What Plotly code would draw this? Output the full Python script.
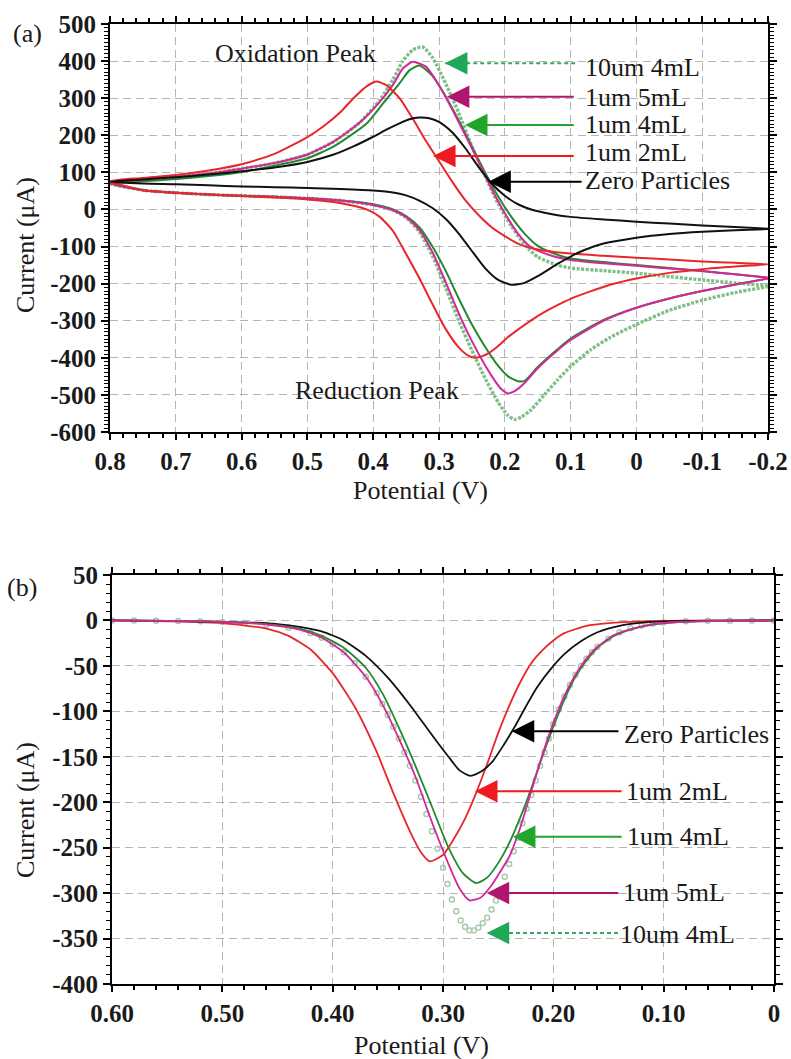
import plotly.graph_objects as go

# ---------------- (a) cyclic voltammograms: potential (V) / current (uA) ----------------
# each loop: anodic sweep -0.2 -> 0.8 V, then cathodic sweep 0.8 -> -0.2 V
ZERO_E = [-0.2, -0.15, -0.1, -0.05, 0.0, 0.05, 0.1, 0.13, 0.16, 0.18, 0.2, 0.22, 0.24, 0.26, 0.28, 0.3,
          0.315, 0.33, 0.345, 0.36, 0.38, 0.4, 0.43, 0.46, 0.5, 0.55, 0.6, 0.65, 0.7, 0.75, 0.8,
          0.75, 0.7, 0.65, 0.6, 0.55, 0.5, 0.45, 0.4, 0.37, 0.35, 0.33, 0.31, 0.29, 0.27, 0.25, 0.23,
          0.21, 0.19, 0.17, 0.15, 0.12, 0.1, 0.08, 0.05, 0.0, -0.05, -0.1, -0.15, -0.2]
ZERO_I = [-52, -47, -43, -38, -33, -27, -20, -12, 0, 14, 37, 70, 115, 165, 208, 236,
          246, 248, 243, 232, 215, 196, 170, 148, 128, 113, 103, 94, 87, 81, 75,
          70, 68, 65, 62, 60, 58, 55, 51, 46, 38, 24, 4, -25, -65, -112, -158,
          -190, -203, -198, -180, -147, -127, -110, -92, -76, -66, -60, -56, -53]

R2_E = [-0.2, -0.15, -0.1, -0.05, 0.0, 0.05, 0.1, 0.15, 0.18, 0.2, 0.22, 0.24, 0.26, 0.28, 0.3, 0.32,
        0.34, 0.36, 0.38, 0.395, 0.41, 0.43, 0.45, 0.475, 0.5, 0.55, 0.6, 0.65, 0.7, 0.75, 0.8,
        0.75, 0.7, 0.65, 0.6, 0.55, 0.5, 0.46, 0.43, 0.41, 0.39, 0.37, 0.35, 0.33, 0.31, 0.29,
        0.27, 0.255, 0.245, 0.235, 0.225, 0.21, 0.195, 0.18, 0.16, 0.14, 0.12, 0.1, 0.07, 0.04, 0.0,
        -0.05, -0.1, -0.15, -0.2]
R2_I = [-148, -144, -140, -135, -130, -125, -119, -108, -92, -72, -48, -15, 25, 75, 130, 185,
        245, 300, 335, 345, 332, 300, 262, 225, 195, 150, 122, 105, 93, 85, 76,
        52, 45, 40, 36, 32, 27, 20, 10, 0, -20, -58, -120, -185, -255, -322,
        -372, -395, -400, -396, -388, -368, -344, -324, -299, -277, -258, -241, -221, -203, -186,
        -171, -161, -154, -148]

G4_E = [-0.2, -0.15, -0.1, -0.05, 0.0, 0.05, 0.1, 0.12, 0.15, 0.17, 0.19, 0.21, 0.23, 0.25, 0.27, 0.29,
        0.31, 0.33, 0.345, 0.36, 0.385, 0.41, 0.46, 0.5, 0.55, 0.6, 0.65, 0.7, 0.75, 0.8,
        0.75, 0.7, 0.65, 0.6, 0.55, 0.5, 0.45, 0.4, 0.37, 0.35, 0.33, 0.31, 0.29, 0.27, 0.25,
        0.23, 0.21, 0.195, 0.18, 0.17, 0.15, 0.12, 0.1, 0.05, 0.0, -0.05, -0.1, -0.15, -0.2]
G4_I = [-184, -175, -166, -158, -150, -142, -132, -122, -98, -65, -20, 35, 100, 170, 240, 305,
        360, 388, 375, 340, 286, 232, 170, 138, 118, 101, 90, 82, 76, 70,
        52, 45, 40, 37, 34, 30, 24, 14, 0, -18, -48, -100, -165, -240, -310,
        -370, -422, -450, -463, -462, -425, -377, -348, -298, -265, -240, -220, -202, -186]

M5_E = [-0.2, -0.15, -0.1, -0.05, 0.0, 0.05, 0.1, 0.13, 0.16, 0.18, 0.2, 0.22, 0.24, 0.26, 0.28, 0.3,
        0.32, 0.34, 0.355, 0.37, 0.39, 0.42, 0.46, 0.5, 0.55, 0.6, 0.65, 0.7, 0.75, 0.8,
        0.75, 0.7, 0.65, 0.6, 0.55, 0.5, 0.45, 0.4, 0.37, 0.35, 0.33, 0.31, 0.29, 0.27, 0.25,
        0.23, 0.215, 0.205, 0.195, 0.185, 0.17, 0.15, 0.12, 0.1, 0.05, 0.0, -0.05, -0.1, -0.15, -0.2]
M5_I = [-184, -175, -166, -159, -152, -145, -136, -124, -102, -65, -10, 55, 130, 200, 270, 335,
        385, 398, 380, 336, 290, 235, 183, 148, 125, 110, 97, 88, 80, 72,
        52, 45, 40, 37, 34, 30, 24, 12, -2, -20, -55, -115, -195, -280, -355,
        -420, -462, -485, -496, -490, -468, -428, -380, -352, -300, -265, -240, -220, -203, -186]

T4_E = [-0.2, -0.15, -0.1, -0.05, 0.0, 0.05, 0.1, 0.12, 0.15, 0.17, 0.19, 0.21, 0.23, 0.25, 0.27, 0.29,
        0.31, 0.325, 0.34, 0.355, 0.37, 0.39, 0.42, 0.46, 0.5, 0.55, 0.6, 0.65, 0.7, 0.75, 0.8,
        0.75, 0.7, 0.65, 0.6, 0.55, 0.5, 0.45, 0.4, 0.37, 0.35, 0.33, 0.31, 0.29, 0.27, 0.25,
        0.23, 0.21, 0.195, 0.185, 0.175, 0.16, 0.14, 0.12, 0.1, 0.07, 0.04, 0.0, -0.05, -0.1, -0.15, -0.2]
T4_I = [-206, -198, -190, -181, -172, -165, -158, -150, -128, -95, -45, 15, 90, 170, 260, 340,
        410, 438, 430, 400, 350, 295, 235, 183, 148, 125, 110, 97, 88, 80, 70,
        52, 45, 40, 37, 34, 30, 24, 12, -2, -22, -60, -125, -210, -300, -380,
        -455, -520, -556, -566, -560, -540, -500, -460, -423, -379, -345, -310, -272, -245, -224, -208]

# ---------------- (b) reduction sweeps, 0.6 -> 0 V ----------------
B_ZERO_E = [0.6, 0.55, 0.5, 0.47, 0.45, 0.43, 0.41, 0.39, 0.37, 0.35, 0.33, 0.31, 0.295, 0.285, 0.275,
            0.265, 0.255, 0.245, 0.235, 0.225, 0.215, 0.2, 0.19, 0.175, 0.16, 0.14, 0.12, 0.1, 0.05, 0.0]
B_ZERO_I = [0, -0.5, -1.5, -2.5, -4, -7, -12, -22, -39, -63, -93, -126, -150, -165, -171,
            -166, -155, -137, -117, -95, -74, -50, -37, -23, -13, -6, -2.5, -1, -0.3, 0]

B_R2_E = [0.6, 0.55, 0.5, 0.46, 0.44, 0.42, 0.4, 0.38, 0.36, 0.345, 0.33, 0.32, 0.312, 0.3, 0.29, 0.28,
          0.27, 0.26, 0.25, 0.24, 0.23, 0.22, 0.21, 0.2, 0.19, 0.17, 0.15, 0.12, 0.08, 0.0]
B_R2_I = [0, -1, -3, -9, -17, -32, -58, -95, -145, -190, -232, -255, -265, -258, -240, -218,
          -190, -158, -124, -94, -68, -47, -33, -22, -14, -6, -3, -1, -0.3, 0]

B_G4_E = [0.6, 0.55, 0.5, 0.46, 0.43, 0.41, 0.39, 0.37, 0.355, 0.34, 0.325, 0.31, 0.295, 0.282, 0.27,
          0.26, 0.25, 0.24, 0.23, 0.22, 0.21, 0.2, 0.19, 0.18, 0.17, 0.16, 0.145, 0.13, 0.11, 0.09, 0.05, 0.0]
B_G4_I = [0, -0.5, -1.5, -4, -9, -17, -30, -52, -80, -118, -160, -205, -250, -278, -289,
          -283, -267, -245, -217, -185, -150, -117, -87, -62, -44, -30, -17, -10, -4.5, -2, -0.5, 0]

B_M5_E = [0.6, 0.55, 0.5, 0.46, 0.43, 0.41, 0.39, 0.37, 0.355, 0.34, 0.325, 0.31, 0.295, 0.285, 0.276,
          0.266, 0.257, 0.25, 0.24, 0.23, 0.22, 0.21, 0.2, 0.19, 0.18, 0.17, 0.16, 0.145, 0.13, 0.11, 0.09, 0.05, 0.0]
B_M5_I = [0, -0.5, -1.5, -4.5, -10, -19, -35, -62, -92, -130, -172, -222, -268, -295, -308,
          -305, -293, -280, -260, -228, -188, -148, -113, -83, -60, -42, -29, -16, -9.5, -4, -2, -0.5, 0]

# 10um 4mL samples (drawn as open circles)
B_T4_E = [0.6, 0.58, 0.56, 0.54, 0.52, 0.5, 0.48, 0.46, 0.44, 0.42, 0.41, 0.4, 0.39, 0.38, 0.37,
          0.36, 0.355, 0.35, 0.345, 0.34, 0.335, 0.33, 0.325, 0.32, 0.315, 0.31, 0.305, 0.3, 0.296,
          0.292, 0.288, 0.284, 0.28, 0.276, 0.272, 0.268, 0.264, 0.26, 0.256, 0.252, 0.248, 0.244,
          0.24, 0.236, 0.232, 0.228, 0.224, 0.22, 0.216, 0.212, 0.208, 0.204, 0.2, 0.195, 0.19, 0.185,
          0.18, 0.175, 0.17, 0.165, 0.16, 0.15, 0.14, 0.13, 0.12, 0.11, 0.1, 0.08, 0.06, 0.04, 0.02, 0.0]
B_T4_I = [0, 0, -0.3, -0.6, -1, -1.7, -2.8, -4.7, -8, -14, -19, -26, -35, -47, -62,
          -80, -92, -104, -117, -130, -145, -160, -176, -194, -213, -232, -251, -272, -290,
          -307, -320, -330, -337, -341, -341, -338, -333, -327, -318, -308, -296, -282,
          -268, -254, -239, -223, -207, -192, -176, -160, -145, -130, -114, -98, -84, -71,
          -60, -50, -42, -35, -29, -20, -13, -8.5, -5.5, -3.5, -2.2, -0.9, -0.4, -0.2, 0, 0]

NAMES = ["Zero Particles", "1um 2mL", "1um 4mL", "1um 5mL", "10um 4mL"]
C_BLACK = "#111111"
C_RED = "#e8262c"
C_GREEN = "#218a2e"
C_MAGENTA = "#d3279a"
C_LIGHT = "#7fbf86"

X1_TICKS = [0.8, 0.7, 0.6, 0.5, 0.4, 0.3, 0.2, 0.1, 0.0, -0.1, -0.2]
X1_LABELS = ["0.8", "0.7", "0.6", "0.5", "0.4", "0.3", "0.2", "0.1", "0", "-0.1", "-0.2"]
Y1_TICKS = [500, 400, 300, 200, 100, 0, -100, -200, -300, -400, -500, -600]
Y1_LABELS = ["500", "400", "300", "200", "100", "0", "-100", "-200", "-300", "-400", "-500", "-600"]
X2_TICKS = [0.6, 0.5, 0.4, 0.3, 0.2, 0.1, 0.0]
X2_LABELS = ["0.60", "0.50", "0.40", "0.30", "0.20", "0.10", "0"]
Y2_TICKS = [50, 0, -50, -100, -150, -200, -250, -300, -350, -400]
Y2_LABELS = ["50", "0", "-50", "-100", "-150", "-200", "-250", "-300", "-350", "-400"]

SERIF = "Liberation Serif"

fig = go.Figure()

# panel (a)
fig.add_trace(go.Scatter(x=T4_E, y=T4_I, mode="lines", name=NAMES[4], xaxis="x", yaxis="y",
                         line=dict(color=C_LIGHT, width=3.4, dash="3px,1.5px", shape="spline", smoothing=0.6)))
for e, i, c, n in [(G4_E, G4_I, C_GREEN, NAMES[2]), (M5_E, M5_I, C_MAGENTA, NAMES[3]),
                   (R2_E, R2_I, C_RED, NAMES[1]), (ZERO_E, ZERO_I, C_BLACK, NAMES[0])]:
    fig.add_trace(go.Scatter(x=e, y=i, mode="lines", name=n, xaxis="x", yaxis="y",
                             line=dict(color=c, width=2, shape="spline", smoothing=0.6)))

# panel (b)
fig.add_trace(go.Scatter(x=B_T4_E, y=B_T4_I, mode="markers", name=NAMES[4], xaxis="x2", yaxis="y2",
                         marker=dict(symbol="circle-open", size=5, color="#a3c7a8", line=dict(width=1.4))))
for e, i, c, n in [(B_R2_E, B_R2_I, C_RED, NAMES[1]), (B_ZERO_E, B_ZERO_I, C_BLACK, NAMES[0]),
                   (B_G4_E, B_G4_I, C_GREEN, NAMES[2]), (B_M5_E, B_M5_I, C_MAGENTA, NAMES[3])]:
    fig.add_trace(go.Scatter(x=e, y=i, mode="lines", name=n, xaxis="x2", yaxis="y2",
                             line=dict(color=c, width=1.8, shape="spline", smoothing=0.6)))


def bold(labels):
    return ["<b>%s</b>" % s for s in labels]


tickfont = dict(family=SERIF, size=25, color="#1a1a1a")
common = dict(automargin=False, showgrid=True, gridcolor="#b5b5b5", gridwidth=1, griddash="8px,5px",
              zeroline=False, showline=True, linecolor="black", linewidth=2, mirror="allticks",
              ticks="outside", tickwidth=2, tickcolor="black", tickfont=tickfont)
minor_x = dict(dtick=0.02, tick0=0, ticklen=4, tickwidth=1.5, tickcolor="black", ticks="outside", showgrid=False)
minor_y = dict(dtick=10, tick0=0, ticklen=4, tickwidth=1.2, tickcolor="black", ticks="outside", showgrid=False)

fig.update_layout(
    width=791, height=1059, margin=dict(l=0, r=0, t=0, b=0, autoexpand=False),
    paper_bgcolor="white", plot_bgcolor="white", showlegend=False,
    xaxis=dict(domain=[110 / 791, 768 / 791], range=[0.8, -0.2], anchor="y",
               tickvals=X1_TICKS, ticktext=bold(X1_LABELS), ticklen=6, minor=minor_x, **common),
    yaxis=dict(domain=[1 - 432 / 1059, 1 - 24 / 1059], range=[-600, 500], anchor="x",
               tickvals=Y1_TICKS, ticktext=bold(Y1_LABELS), ticklen=7, minor=minor_y, **common),
    xaxis2=dict(domain=[112 / 791, 774 / 791], range=[0.6, 0.0], anchor="y2",
                tickvals=X2_TICKS, ticktext=bold(X2_LABELS), ticklen=6, minor=minor_x, **common),
    yaxis2=dict(domain=[1 - 984 / 1059, 1 - 575 / 1059], range=[-400, 50], anchor="x2",
                tickvals=Y2_TICKS, ticktext=bold(Y2_LABELS), ticklen=7, minor=minor_y, **common),
)

txt = dict(family=SERIF, size=26, color="#1a1a1a")
anns = []


def paper_text(x, y, s, angle=0):
    anns.append(dict(x=x / 791, y=1 - y / 1059, xref="paper", yref="paper", text=s, showarrow=False,
                     font=txt, textangle=angle, xanchor="center", yanchor="middle"))


paper_text(27, 34, "(a)")
paper_text(22, 587, "(b)")
paper_text(295, 53, "Oxidation Peak")
paper_text(377, 390, "Reduction Peak")
paper_text(420, 490, "Potential (V)")
paper_text(421, 1045, "Potential (V)")
paper_text(25, 245, "Current (μA)", -90)
paper_text(25, 810, "Current (μA)", -90)

shapes = []


def pointer(xa, ya, tip_x, tip_y, tail_x, label, color, head_color, text_x, text_y, dashed=False):
    if dashed:
        shapes.append(dict(type="line", xref=xa, yref=ya, x0=tail_x, x1=tip_x, y0=tip_y, y1=tip_y,
                           line=dict(color=color, width=2, dash="4px,3px")))
        anns.append(dict(x=tip_x, y=tip_y, xref=xa, yref=ya, ax=24, ay=0, text="", showarrow=True,
                         arrowhead=2, arrowsize=2.25, arrowwidth=2, arrowcolor=head_color))
    else:
        anns.append(dict(x=tip_x, y=tip_y, xref=xa, yref=ya, ax=tail_x, ay=tip_y, axref=xa, ayref=ya,
                         text="", showarrow=True, arrowhead=2, arrowsize=2.25, arrowwidth=2,
                         arrowcolor=head_color))
    anns.append(dict(x=text_x, y=text_y, xref=xa, yref=ya, text=label, showarrow=False, font=txt,
                     xanchor="left", yanchor="middle"))


# panel (a) pointers
pointer("x", "y", 0.291, 394, 0.093, NAMES[4], "#3aa862", "#20a858", 0.0812, 384, dashed=True)
pointer("x", "y", 0.288, 304, 0.093, NAMES[3], "#c42a8c", "#b0166e", 0.0812, 302)
pointer("x", "y", 0.2605, 228, 0.093, NAMES[2], "#2a9a3a", "#22a52c", 0.0812, 230)
pointer("x", "y", 0.309, 144, 0.093, NAMES[1], "#e0282e", "#ee1a1f", 0.0812, 154)
pointer("x", "y", 0.225, 75, 0.081, NAMES[0], "#111111", "#000000", 0.0812, 77)

# panel (b) pointers
pointer("x2", "y2", 0.2377, -122, 0.1396, NAMES[0], "#111111", "#000000", 0.138, -125)
pointer("x2", "y2", 0.271, -188, 0.1368, NAMES[1], "#e0282e", "#ee1a1f", 0.136, -188)
pointer("x2", "y2", 0.2366, -238, 0.1368, NAMES[2], "#2a9a3a", "#22a52c", 0.135, -238)
pointer("x2", "y2", 0.2604, -300, 0.1396, NAMES[3], "#c42a8c", "#b0166e", 0.1387, -299)
pointer("x2", "y2", 0.2604, -344, 0.1414, NAMES[4], "#3aa862", "#20a858", 0.1414, -345, dashed=True)

fig.update_layout(annotations=anns, shapes=shapes)
fig.write_html("out.html")
